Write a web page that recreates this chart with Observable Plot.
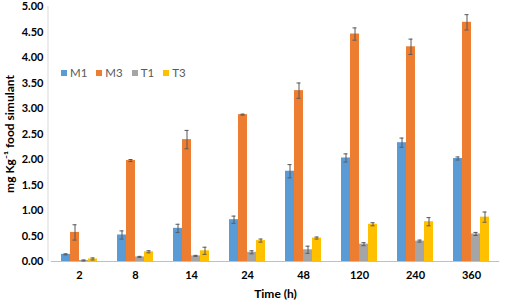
<!DOCTYPE html>
<html>
<head>
<meta charset="utf-8">
<script src="https://cdn.jsdelivr.net/npm/d3@7"></script>
<script src="https://cdn.jsdelivr.net/npm/@observablehq/plot@0.6"></script>
<style>
  html, body { margin: 0; padding: 0; background: #fff; }
  #wrap { position: relative; width: 505px; height: 301px; font-family: Lato, "Open Sans", sans-serif; }
  #legend { position: absolute; left: 61px; top: 66px; display: flex; gap: 9px; font-size: 11.5px; color: #595959; }
  #legend span.item { display: flex; align-items: center; gap: 3px; }
  #legend span.sw { display: inline-block; width: 6px; height: 6px; }
</style>
</head>
<body>
<div id="wrap"><div id="legend"></div></div>
<script>
const times = ["2", "8", "14", "24", "48", "120", "240", "360"];
const series = ["M1", "M3", "T1", "T3"];
const colors = ["#5B9BD5", "#ED7D31", "#A5A5A5", "#FFC000"];
const M1 = [0.14, 0.52, 0.65, 0.82, 1.77, 2.03, 2.33, 2.02];
const M3 = [0.57, 1.98, 2.39, 2.88, 3.35, 4.46, 4.21, 4.69];
const T1 = [0.02, 0.09, 0.11, 0.18, 0.23, 0.34, 0.40, 0.54];
const T3 = [0.05, 0.19, 0.21, 0.41, 0.46, 0.73, 0.78, 0.87];
const errM1 = [0.01, 0.08, 0.08, 0.07, 0.13, 0.08, 0.09, 0.03];
const errM3 = [0.15, 0.02, 0.18, 0.01, 0.15, 0.12, 0.15, 0.15];
const errT1 = [0.01, 0.01, 0.01, 0.03, 0.07, 0.03, 0.02, 0.03];
const errT3 = [0.02, 0.02, 0.07, 0.03, 0.02, 0.03, 0.08, 0.10];
const yTicks = [0, 0.5, 1, 1.5, 2, 2.5, 3, 3.5, 4, 4.5, 5];

const vals = {M1, M3, T1, T3};
const errs = {M1: errM1, M3: errM3, T1: errT1, T3: errT3};
const data = [];
times.forEach((t, i) => series.forEach(s => {
  data.push({time: t, series: s, value: vals[s][i], lo: vals[s][i] - errs[s][i], hi: vals[s][i] + errs[s][i]});
}));

const chart = Plot.plot({
  width: 505,
  height: 301,
  marginLeft: 48,
  marginRight: 2,
  marginTop: 6,
  marginBottom: 40,
  style: {fontFamily: "Lato, 'Open Sans', sans-serif", background: "#fff"},
  fx: {domain: times, paddingInner: 0.28, paddingOuter: 0.14},
  x: {domain: series, axis: null, padding: 0.04},
  y: {domain: [0, 5]},
  color: {domain: series, range: colors},
  marks: [
    Plot.barY(data, {fx: "time", x: "series", y: "value", fill: "series"}),
    Plot.ruleY([0], {stroke: "#bfbfbf", insetLeft: -8.2, insetRight: -8.2}),
    Plot.ruleX(data, {fx: "time", x: "series", y1: "lo", y2: "hi", stroke: "#595959", strokeWidth: 1}),
    Plot.tickY(data, {fx: "time", x: "series", y: "lo", stroke: "#595959", insetLeft: 2.5, insetRight: 2.5}),
    Plot.tickY(data, {fx: "time", x: "series", y: "hi", stroke: "#595959", insetLeft: 2.5, insetRight: 2.5}),
    Plot.axisY({ticks: yTicks, tickFormat: d => d.toFixed(2), tickSize: 0, tickPadding: 16,
      fontWeight: "bold", fontSize: 11, fill: "#000", label: null}),
    Plot.axisY({ticks: [], tickSize: 0, fontWeight: "bold", fontSize: 12, fill: "#000",
      label: "mg Kg\u207B\u00B9 food simulant", labelAnchor: "center", labelArrow: "none", labelOffset: 54}),
    Plot.axisFx({anchor: "bottom", tickSize: 0, tickPadding: 10, fontWeight: "bold", fontSize: 11, fill: "#000", label: null}),
    Plot.axisFx({anchor: "bottom", ticks: [], tickSize: 0, fontWeight: "bold", fontSize: 12, fill: "#000",
      label: "Time (h)", labelAnchor: "center", labelArrow: "none", labelOffset: 36})
  ]
});
document.getElementById("wrap").prepend(chart);

// y axis line at left edge of plot area
const ys = chart.scale("y");
d3.select(chart).append("line")
  .attr("x1", 48).attr("x2", 48)
  .attr("y1", ys.apply(5)).attr("y2", ys.apply(0))
  .attr("stroke", "#d9d9d9");

const legend = d3.select("#legend");
series.forEach((s, i) => {
  const it = legend.append("span").attr("class", "item");
  it.append("span").attr("class", "sw").style("background", colors[i]);
  it.append("span").text(s);
});
</script>
</body>
</html>
